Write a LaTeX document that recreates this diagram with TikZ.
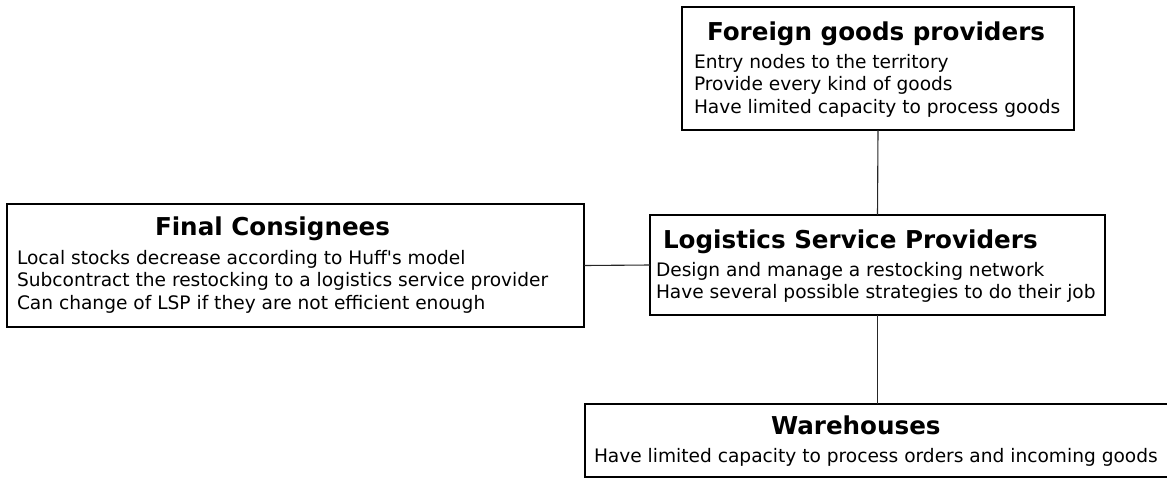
\documentclass[tikz,border=0pt]{standalone}
\usepackage{fontspec}
\setmainfont{DejaVu Sans}
\begin{document}
\begin{tikzpicture}[x=1pt,y=-1pt,
  box/.style={draw=black,line width=1.8pt,inner sep=0pt,outer sep=0pt,anchor=north west},
  ttl/.style={anchor=base west,inner sep=0pt,outer sep=0pt,font=\fontsize{24.6}{29}\selectfont\bfseries},
  body/.style={anchor=base west,inner sep=0pt,outer sep=0pt,font=\fontsize{18.6}{22.5}\selectfont},
  link/.style={draw=black!85,line width=1.1pt}]
\useasboundingbox (0,0) rectangle (1167,477);
\clip (0,0) rectangle (1167,477);
% boxes
\node[box,minimum width=392pt,minimum height=123pt] (fgp) at (682,7) {};
\node[box,minimum width=455pt,minimum height=100pt] (lsp) at (650,215) {};
\node[box,minimum width=577pt,minimum height=123pt] (fc) at (7,204) {};
\node[box,minimum width=600pt,minimum height=73pt] (wh) at (585,404) {};
% texts
\node[ttl] (fgpt) at (707,40) {Foreign goods providers};
\node[body] (fgpb) at (694,68) {\begin{tabular}[t]{@{}l@{}}Entry nodes to the territory\\Provide every kind of goods\\Have limited capacity to process goods\end{tabular}};
\node[ttl] (lspt) at (663,248) {Logistics Service Providers};
\node[body] (lspb) at (656,276) {\begin{tabular}[t]{@{}l@{}}Design and manage a restocking network\\Have several possible strategies to do their job\end{tabular}};
\node[ttl] (fct) at (155,235) {Final Consignees};
\node[body] (fcb) at (17,264) {\begin{tabular}[t]{@{}l@{}}Local stocks decrease according to Huff\textquotesingle s model\\Subcontract the restocking to a logistics service provider\\Can change of LSP if they are not efficient enough\end{tabular}};
\node[ttl] (wht) at (771,434) {Warehouses};
\node[body] (whb) at (594,462) {Have limited capacity to process orders and incoming goods};
% connectors
\draw[link] (fgp.south) -- (lsp.north);
\draw[link] (fc.east) -- (lsp.west);
\draw[link] (lsp.south) -- (lsp.south |- wh.north);
\end{tikzpicture}
\end{document}
